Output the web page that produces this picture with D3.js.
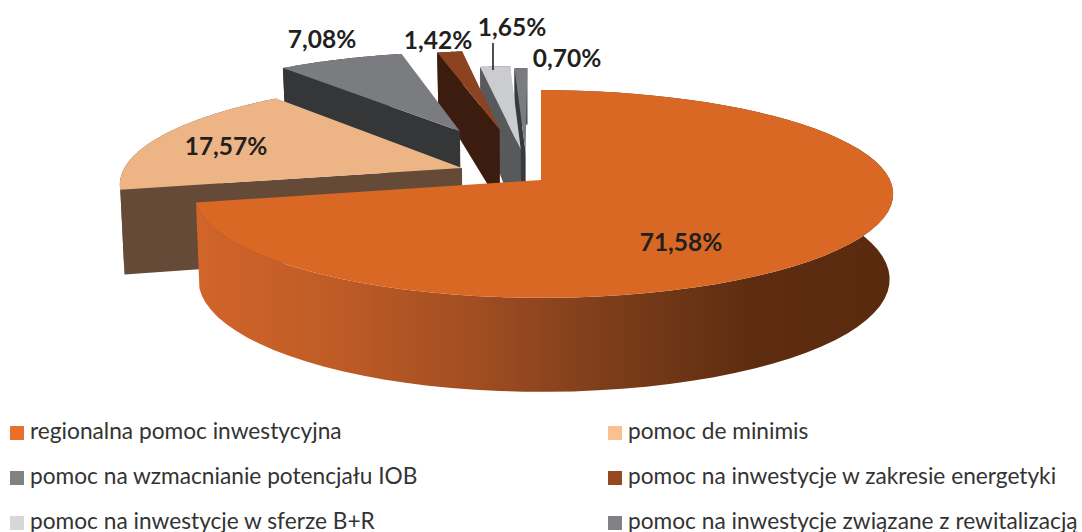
<!DOCTYPE html>
<html><head><meta charset="utf-8">
<script src="https://cdn.jsdelivr.net/npm/d3@7/dist/d3.min.js"></script>
<style>html,body{margin:0;background:#fff;overflow:hidden}svg{display:block}</style>
</head><body><svg id="c" width="1082" height="532"></svg>
<script>
const categories = ["regionalna pomoc inwestycyjna","pomoc de minimis","pomoc na wzmacnianie potencjału IOB","pomoc na inwestycje w zakresie energetyki","pomoc na inwestycje w sferze B+R","pomoc na inwestycje związane z rewitalizacją"];
const values = [71.58,17.57,7.08,1.42,1.65,0.70];
const valueLabels = ["71,58%","17,57%","7,08%","1,42%","1,65%","0,70%"];
const explode = [0,0.263,0.57,0.545,0.32,0.29];
const explodeTurn = [0,7.8,0,-2.7,-5.6,-8];
const topColors = ["#D96825","#EDB586","#7B7C7F","#8C4320","#CBCCCE","#7B7C7F"];
const wallColors = ["#8a4420","#644A37","#343637","#3B1C0E","#58595B","#37393B"];
const legendColors = ["#E8702A","#FBC08F","#808184","#964920","#D6D7D9","#808184"];
const drawOrder = [5,4,3,2,1,0];
const labelX = [681,226,322,438,512,567];
const labelY = [243,147,40,41,28,59];

const svg = d3.select("#c");
const k = 0.1346, cx = 541, cy = 180, Ry = 102, shrink = 0.99;
const xS = d3.scaleLinear().domain([-1,0,1]).range([-343,0,349]);
const yS = d3.scaleLinear().domain([-1,1]).range([-Ry,Ry]);
const depth = d3.scaleLinear().domain([-1.5,-0.3,1]).range([51,81,94]).clamp(true);
const project = (u,v,z) => {
  const s = 1/(1-k*v);
  return [cx + xS(u)*s*(1-z*(1-shrink)), cy + yS(v)*s + z*depth(v)];
};
const line = d3.line();
const pie = d3.pie().sort(null).startAngle(0).endAngle(2*Math.PI)(values);

const grad = svg.append("defs").append("linearGradient").attr("id","side")
  .attr("gradientUnits","userSpaceOnUse").attr("x1",190).attr("x2",890).attr("y1",0).attr("y2",0);
[[0,"#D2652A"],[0.2,"#BF5C26"],[0.4,"#A24E22"],[0.6,"#7C3D1A"],[0.8,"#5E2D11"],[1,"#5A2A0E"]]
  .forEach(s=>grad.append("stop").attr("offset",s[0]).attr("stop-color",s[1]));

drawOrder.forEach(i=>{
  const a0 = pie[i].startAngle, a1 = pie[i].endAngle;
  const mid = (a0+a1)/2 + explodeTurn[i]*Math.PI/180;
  const ou = explode[i]*Math.sin(mid), ov = -explode[i]*Math.cos(mid);
  const rim = (a,z)=>project(ou+Math.sin(a),ov-Math.cos(a),z);
  const apex = z=>project(ou,ov,z);
  const angles = d3.range(0,73).map(t=>a0+(a1-a0)*t/72);
  const g = svg.append("g");
  g.append("path")
    .attr("d",line(angles.map(a=>rim(a,0)).concat(angles.slice().reverse().map(a=>rim(a,1))))+"Z")
    .attr("fill", i===0 ? "url(#side)" : wallColors[i]);
  if(i!==0) g.append("path")
    .attr("d",line([apex(0),rim(a0,0),rim(a0,1),apex(1)])+"Z").attr("fill",wallColors[i]);
  g.append("path").attr("d",line([apex(0)].concat(angles.map(a=>rim(a,0))))+"Z").attr("fill",topColors[i]);
});

svg.append("line").attr("x1",493).attr("x2",493).attr("y1",43).attr("y2",70)
  .attr("stroke","#222").attr("stroke-width",1.6);

svg.append("g").selectAll("text").data(valueLabels).join("text")
  .attr("x",(d,i)=>labelX[i]).attr("y",(d,i)=>labelY[i]+8)
  .attr("text-anchor","middle").attr("font-family","Lato").attr("font-weight",700)
  .attr("font-size",24.5).attr("fill","#231F20").text(d=>d);

const colX = d3.scaleOrdinal().domain([0,1]).range([10,608]);
const rowY = d3.scaleOrdinal().domain([0,1,2]).range([426,471,516]);
const leg = svg.append("g").selectAll("g").data(categories).join("g")
  .attr("transform",(d,i)=>`translate(${colX(i%2)},${rowY(Math.floor(i/2))})`);
leg.append("rect").attr("width",14).attr("height",14).attr("fill",(d,i)=>legendColors[i]);
leg.append("text").attr("x",20).attr("y",13).attr("font-family","Lato").attr("font-size",22.7)
  .attr("fill","#333").text(d=>d);
</script></body></html>
